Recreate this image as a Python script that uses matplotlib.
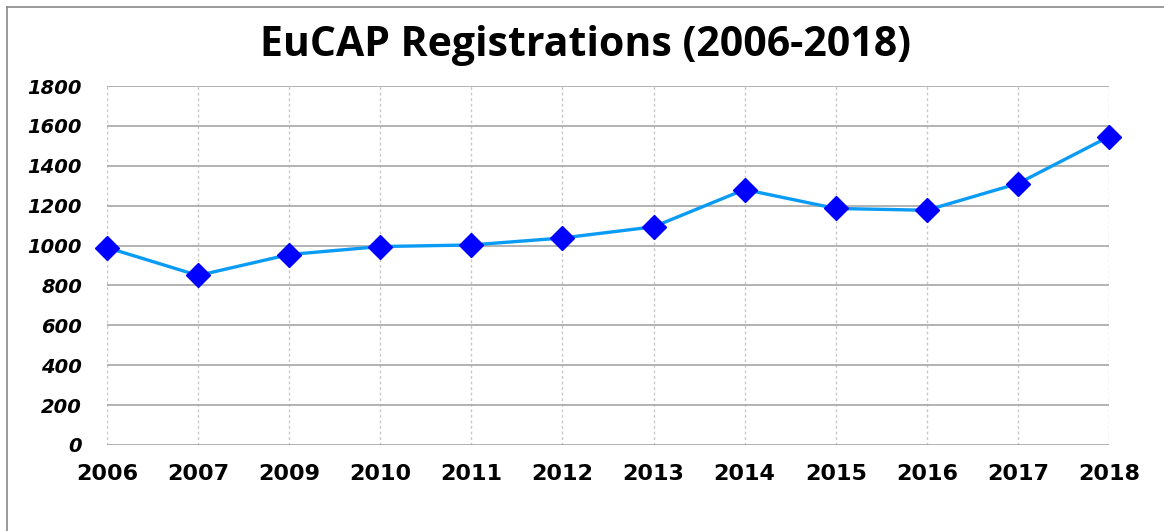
import matplotlib
matplotlib.use("Agg")
import matplotlib.pyplot as plt
from matplotlib.lines import Line2D

years = ["2006", "2007", "2009", "2010", "2011", "2012", "2013",
         "2014", "2015", "2016", "2017", "2018"]
registrations = [990, 850, 955, 995, 1003, 1038, 1094, 1281, 1186, 1177, 1311, 1546]
y_ticks = [0, 200, 400, 600, 800, 1000, 1200, 1400, 1600, 1800]
title = "EuCAP Registrations (2006-2018)"

W, H = 1164, 531
fig = plt.figure(figsize=(W / 100, H / 100), dpi=100)
fig.patch.set_facecolor("white")

# outer frame (top and left)
fig.add_artist(Line2D([7 / W, 1], [1 - 7 / H, 1 - 7 / H], color="#8a8a8a", lw=1.2,
                      transform=fig.transFigure))
fig.add_artist(Line2D([7 / W, 7 / W], [0, 1 - 7 / H], color="#8a8a8a", lw=1.2,
                      transform=fig.transFigure))

ax = fig.add_axes([107 / W, (H - 445) / H, (1109 - 107) / W, (445 - 86) / H])
x = list(range(len(years)))
ax.plot(x, registrations, color="#0A9BF5", lw=2.4, marker="D", markersize=12,
        markerfacecolor="#0000FF", markeredgecolor="#0000FF", zorder=3, clip_on=False)

ax.set_xlim(0, len(years) - 1)
ax.set_ylim(0, 1800)
ax.set_yticks(y_ticks)
ax.set_xticks(x)
ax.set_xticklabels(years, fontsize=16, fontweight="bold", family="DejaVu Sans")
ax.set_yticklabels([str(v) for v in y_ticks], fontsize=14, fontweight="bold",
                   fontstyle="italic", family="DejaVu Sans")
ax.tick_params(axis="both", length=0)
ax.tick_params(axis="x", pad=14)
ax.tick_params(axis="y", pad=18)

for s in ax.spines.values():
    s.set_visible(False)
ax.grid(axis="y", color="#a6a6a6", lw=1.2, ls="-")
ax.grid(axis="x", color="#c8c8c8", lw=1.0, ls=(0, (2, 2)))
ax.set_axisbelow(True)

fig.text(585 / W, 1 - 45 / H, title, ha="center", va="center", fontsize=29.5,
         fontweight="bold", family="Open Sans")

fig.savefig("out.png", dpi=100, facecolor="white")
